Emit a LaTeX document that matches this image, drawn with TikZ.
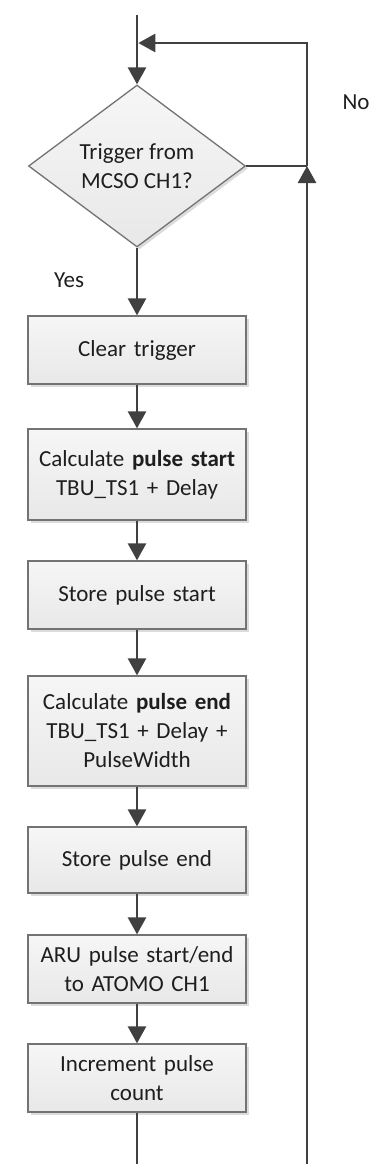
\documentclass[tikz,border=0pt]{standalone}
\usepackage{fontspec}
\setmainfont{Carlito}
\usetikzlibrary{arrows.meta,shapes.geometric,shadows}

\definecolor{flowgray}{HTML}{404040}
\definecolor{edgegray}{HTML}{737373}
\definecolor{filltop}{HTML}{F6F6F6}
\definecolor{fillbot}{HTML}{E8E8E8}
\definecolor{inkgray}{HTML}{1E1E1E}

\tikzset{
  boxshade/.style={drop shadow={shadow xshift=2.5pt, shadow yshift=-2.5pt, fill=black!30, opacity=.45}},
  stepbox/.style={draw=edgegray, line width=1.3pt, top color=filltop, bottom color=fillbot,
    minimum width=218pt, text width=212pt, align=center, inner sep=0pt, text=inkgray,
    font=\fontsize{23}{29}\selectfont, boxshade},
  decision/.style={diamond, draw=edgegray, line width=1.3pt, top color=filltop, bottom color=fillbot,
    minimum width=217pt, minimum height=162pt, inner sep=0pt, align=center, text=inkgray,
    font=\fontsize{23}{29}\selectfont, boxshade},
  link/.style={draw=flowgray, line width=2.6pt},
  flow/.style={link, -{Triangle[length=17pt,width=18pt]}},
  tag/.style={text=inkgray, font=\fontsize{23}{29}\selectfont, inner sep=0pt}
}

\begin{document}
\begin{tikzpicture}[x=1pt,y=-1pt]
\useasboundingbox (0,0) rectangle (388,1164);

% decision and process steps
\node[decision] (dec) at (137,166) {Trigger from\\MCSO CH1?};
\node[stepbox, minimum height=68pt]  (b1) at (137,350)   {Clear trigger};
\node[stepbox, minimum height=91pt]  (b2) at (137,474.5) {Calculate \textbf{pulse start}\\TBU\_TS1 + Delay};
\node[stepbox, minimum height=68pt]  (b3) at (137,595)   {Store pulse start};
\node[stepbox, minimum height=110pt] (b4) at (137,731)   {Calculate \textbf{pulse end}\\TBU\_TS1 + Delay +\\PulseWidth};
\node[stepbox, minimum height=66pt]  (b5) at (137,860)   {Store pulse end};
\node[stepbox, minimum height=68pt]  (b6) at (137,969)   {ARU pulse start/end\\to ATOMO CH1};
\node[stepbox, minimum height=68pt]  (b7) at (137,1078)  {Increment pulse\\count};

% branch labels
\node[tag] (no)  at (356,102) {No};
\node[tag] (yes) at (69,280)  {Yes};

% route points of the loop
\coordinate (entry)   at (137,15);
\coordinate (merge)   at (138.3,43);
\coordinate (loopTop) at (307,43);
\coordinate (loopMid) at (307,166);
\coordinate (exitL)   at (137,1164);
\coordinate (exitR)   at (307,1164);

% main flow
\draw[flow] (entry) -- (dec.north);
\draw[flow] (dec.south) -- (b1.north);
\draw[flow] (b1) -- (b2);
\draw[flow] (b2) -- (b3);
\draw[flow] (b3) -- (b4);
\draw[flow] (b4) -- (b5);
\draw[flow] (b5) -- (b6);
\draw[flow] (b6) -- (b7);
\draw[link] (b7.south) -- (exitL);

% return path
\draw[link] (dec.east) -- (loopMid);
\draw[flow] (exitR) -- (loopMid);
\draw[flow] (loopMid) -- (loopTop) -- (merge);
\end{tikzpicture}
\end{document}
